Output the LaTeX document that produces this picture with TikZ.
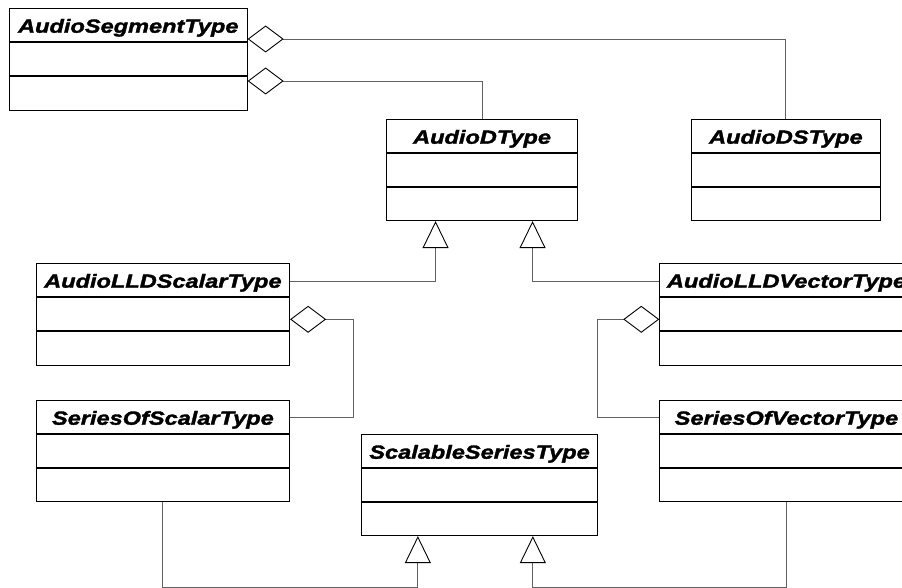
\documentclass[tikz,border=0pt]{standalone}
\usepackage{fontspec}
\newfontfamily\umlfont{Liberation Sans}[FakeStretch=1.24, FakeBold=1.8]
\usetikzlibrary{arrows.meta}
\tikzset{
  umlbox/.style={draw=black, line width=1.1pt, rectangle, inner sep=0pt, anchor=north west, fill=white},
  umlsep/.style={draw=black, line width=1.6pt},
  umllabel/.style={inner sep=0pt, font=\umlfont\bfseries\itshape\fontsize{19}{21}\selectfont},
  conn/.style={draw=black!62, line width=0.85pt},
  agg/.style={conn, {Diamond[open, length=36pt, width=27pt, line width=0.9pt, color=black]}-},
  inh/.style={conn, -{Triangle[open, length=27pt, width=26pt, line width=0.9pt, color=black]}}
}
\newcommand{\umlcls}[6]{%
  \node[umlbox, minimum width=#4pt, minimum height=#5pt] (#1) at (#2,#3) {};
  \draw[umlsep] ([yshift=-34pt]#1.north west) -- ([yshift=-34pt]#1.north east);
  \draw[umlsep] ([yshift=-68pt]#1.north west) -- ([yshift=-68pt]#1.north east);
  \node[umllabel, anchor=base] (#1-t) at ([yshift=-24.7pt]#1.north) {#6};
}
\begin{document}
\begin{tikzpicture}[x=1pt, y=-1pt]
\useasboundingbox (0,0) rectangle (902,588);
\clip (0,0) rectangle (902,588);
\fill[white] (0,0) rectangle (902,588);
\umlcls{ASeg}{9}{8}{237.5}{102}{AudioSegmentType}
\umlcls{AD}{386}{119}{191}{101}{AudioDType}
\umlcls{ADS}{690.7}{119}{189.3}{101}{AudioDSType}
\umlcls{ALS}{35.7}{263}{253.3}{102}{AudioLLDScalarType}
\umlcls{ALV}{659.3}{263}{253.3}{102}{AudioLLDVectorType}
\umlcls{SOS}{35.7}{400}{253.3}{101}{SeriesOfScalarType}
\umlcls{SOV}{659.3}{400}{253.3}{101}{SeriesOfVectorType}
\umlcls{SST}{360.7}{434}{236.6}{101}{ScalableSeriesType}
% aggregations
\draw[agg] ([yshift=-31pt]ASeg.north east) -| (ADS.north);
\draw[agg] ([yshift=-73pt]ASeg.north east) -| (AD.north);
\draw[agg] ([yshift=-56.3pt]ALS.north east) -- ++(63pt,0) |- ([yshift=-17.3pt]SOS.north east);
\draw[agg] ([yshift=-56.3pt]ALV.north west) -- ++(-61.6pt,0) |- ([yshift=-17.3pt]SOV.north west);
% generalizations
\draw[inh] ([yshift=-18pt]ALS.north east) -| ([xshift=-46.5pt]AD.south);
\draw[inh] ([yshift=-18pt]ALV.north west) -| ([xshift=50.5pt]AD.south);
\draw[inh] (SOS.south) -- ++(0,-85pt) -| ([xshift=-61.7pt]SST.south);
\draw[inh] (SOV.south) -- ++(0,-85pt) -| ([xshift=53.3pt]SST.south);
\end{tikzpicture}
\end{document}
